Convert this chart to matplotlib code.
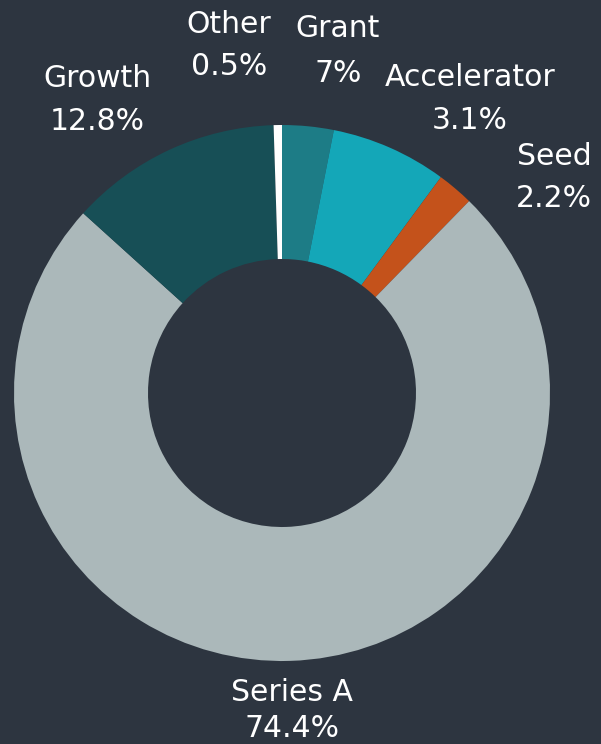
import matplotlib.pyplot as plt

# slices clockwise from 12 o'clock
labels = ["Accelerator", "Grant", "Seed", "Series A", "Growth", "Other"]
shares = [3.1, 7, 2.2, 74.4, 12.8, 0.5]
colors = ["#1d7c86", "#14a7b8", "#c4521b", "#abb8ba", "#174f56", "#ffffff"]

# label anchor: centre x, baseline of name line, baseline of value line (px from top)
label_pos = {
    "Accelerator": (470, 86, 129),
    "Grant": (338, 37, 82),
    "Seed": (554, 165, 207),
    "Series A": (292, 701, 737),
    "Growth": (97, 87, 130),
    "Other": (229, 33, 75),
}

BG = "#2d3540"
W, H = 601, 744


def main():
    fig = plt.figure(figsize=(W / 100, H / 100), dpi=100, facecolor=BG)
    ax = fig.add_axes([0, 0, 1, 1])
    ax.set_facecolor(BG)

    ax.pie(
        shares,
        colors=colors,
        startangle=90,
        counterclock=False,
        center=(282, H - 393),
        radius=268,
        wedgeprops=dict(width=134, linewidth=0),
        frame=True,
    )
    ax.set_xlim(0, W)
    ax.set_ylim(0, H)
    ax.set_aspect("equal")
    ax.axis("off")

    for name, val in zip(labels, shares):
        x, y1, y2 = label_pos[name]
        kw = dict(ha="center", va="baseline", color="white",
                  fontsize=21.5, family="DejaVu Sans")
        ax.text(x, H - y1, name, **kw)
        ax.text(x, H - y2, f"{val:g}%", **kw)

    fig.savefig("out.png", dpi=100, facecolor=BG)


if __name__ == "__main__":
    main()
